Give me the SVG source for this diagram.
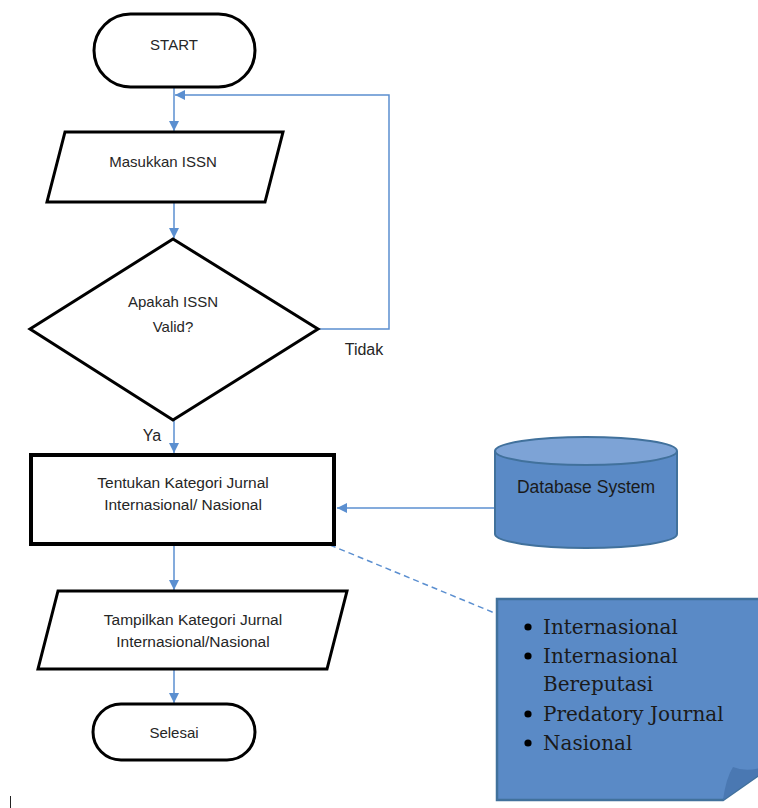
<svg xmlns="http://www.w3.org/2000/svg" width="758" height="808" viewBox="0 0 758 808">
<defs>
<marker id="ah" viewBox="0 0 10 10" refX="10" refY="5" markerWidth="10" markerHeight="10" markerUnits="userSpaceOnUse" orient="auto">
<path d="M0,0 L10,5 L0,10 z" fill="#5B8FD0"/>
</marker>
<style>
.sh{fill:#fff;stroke:#000;stroke-width:3}
.t{font-family:"Liberation Sans",Arial,sans-serif;font-size:15px;fill:#262626;text-anchor:middle}
.c{fill:none;stroke:#5B8FD0;stroke-width:1.5}
.bl{font-family:"DejaVu Serif","Liberation Serif",serif;font-size:20px;fill:#1a1a1a}
.db{fill:#5A8AC6;stroke:#41719C;stroke-width:2}
</style>
</defs>
<rect width="758" height="808" fill="#fff"/>
<g id="connectors">
<path class="c" d="M174,88 V131" marker-end="url(#ah)"/>
<path class="c" d="M174,202 V238" marker-end="url(#ah)"/>
<path class="c" d="M318,329 H389 V95 H175" marker-end="url(#ah)"/>
<path class="c" d="M174,420 V453" marker-end="url(#ah)"/>
<path class="c" d="M495,508 H337" marker-end="url(#ah)"/>
<path class="c" d="M174,546 V590" marker-end="url(#ah)"/>
<path class="c" d="M174,670 V703" marker-end="url(#ah)"/>
<path class="c" d="M330,545 L497,614" stroke-dasharray="6,4"/>
<text class="t" x="364" y="355" style="font-size:16px">Tidak</text>
<text class="t" x="152" y="441" style="font-size:16px">Ya</text>
</g>
<g id="start">
<rect class="sh" x="94" y="14" width="161" height="73" rx="36.5"/>
<text class="t" x="174" y="50">START</text>
</g>
<g id="masukkan">
<polygon class="sh" points="65,132 283,132 265,202 47,202"/>
<text class="t" x="163" y="167">Masukkan ISSN</text>
</g>
<g id="valid">
<polygon class="sh" points="173,239 318,329 173,420 30,329"/>
<text class="t" x="173" y="307">Apakah ISSN</text>
<text class="t" x="173" y="332">Valid?</text>
</g>
<g id="tentukan">
<rect x="31" y="455" width="303" height="89" fill="#fff" stroke="#000" stroke-width="4"/>
<text class="t" x="183" y="488" style="font-size:15.5px">Tentukan Kategori Jurnal</text>
<text class="t" x="183" y="510" style="font-size:15.5px">Internasional/ Nasional</text>
</g>
<g id="database">
<path class="db" d="M495,451 V534 A91,14 0 0 0 677,534 V451"/>
<ellipse cx="586" cy="451" rx="91" ry="14" fill="#7DA3D6" stroke="#41719C" stroke-width="2"/>
<text class="t" x="586" y="493" style="fill:#1a1a1a;font-size:17.5px">Database System</text>
</g>
<g id="tampilkan">
<polygon class="sh" points="58,591 347,591 327,669 38,669"/>
<text class="t" x="193" y="625" style="font-size:15.5px">Tampilkan Kategori Jurnal</text>
<text class="t" x="193" y="647" style="font-size:15.5px">Internasional/Nasional</text>
</g>
<g id="selesai">
<rect class="sh" x="93" y="704" width="162" height="56" rx="28"/>
<text class="t" x="174" y="738">Selesai</text>
</g>
<g id="note">
<path d="M497,599 H760 V774 L723,800 H497 Z" fill="#5A8AC6" stroke="#41719C" stroke-width="2.5"/>
<path d="M723,800 Q726,778 733,767 Q745,772 760,768 V774 Z" fill="#4A78B2"/>
<circle cx="528" cy="627" r="3.6" fill="#000"/>
<circle cx="528" cy="656" r="3.6" fill="#000"/>
<circle cx="528" cy="714" r="3.6" fill="#000"/>
<circle cx="528" cy="743" r="3.6" fill="#000"/>
<text class="bl" x="543" y="634">Internasional</text>
<text class="bl" x="543" y="663">Internasional</text>
<text class="bl" x="543" y="691">Bereputasi</text>
<text class="bl" x="543" y="721">Predatory Journal</text>
<text class="bl" x="543" y="750">Nasional</text>
</g>
<line x1="10.5" y1="796" x2="10.5" y2="808" stroke="#222" stroke-width="1"/>
</svg>
